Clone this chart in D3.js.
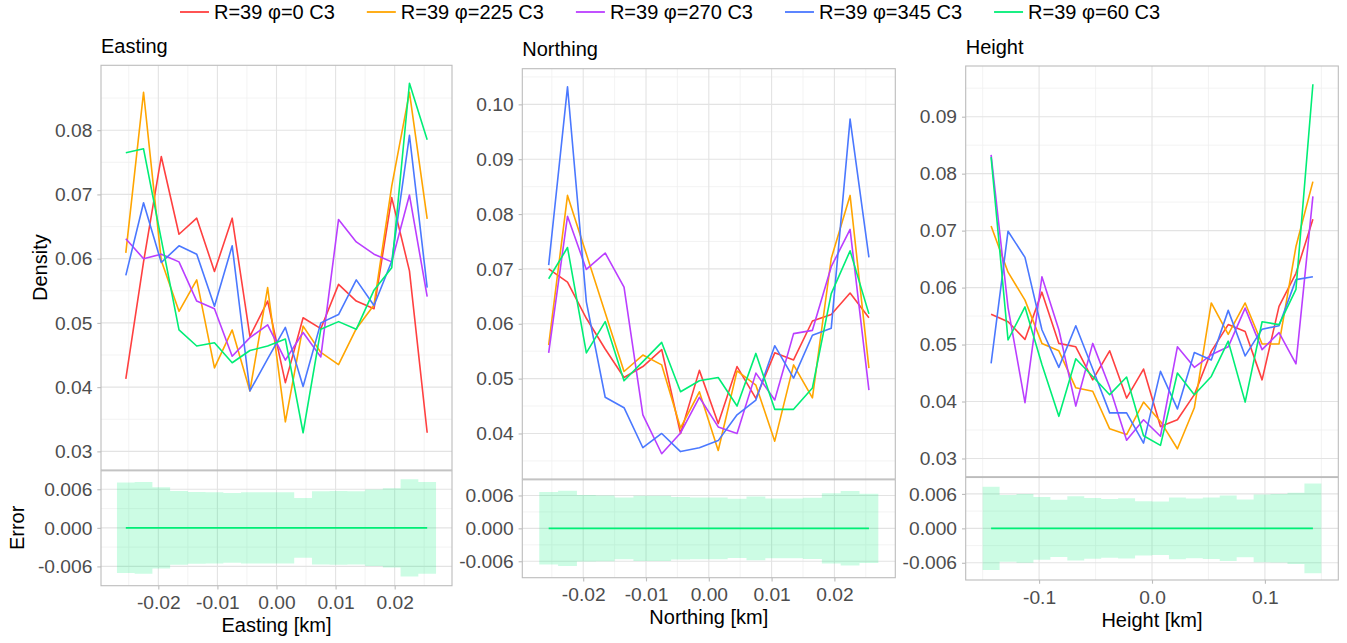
<!DOCTYPE html>
<html>
<head>
<meta charset="utf-8">
<script src="https://cdn.jsdelivr.net/npm/d3@7"></script>
<style>
  body { margin: 0; background: #ffffff; }
  text { font-family: "Liberation Sans", Arial, Helvetica, sans-serif; }
</style>
</head>
<body>
<svg id="chart" width="1347" height="643"></svg>
<script>
// ---- series ----
const seriesNames = ["R=39 φ=0 C3", "R=39 φ=225 C3", "R=39 φ=270 C3", "R=39 φ=345 C3", "R=39 φ=60 C3"];
const seriesColors = ["#FF4040", "#FFA500", "#BA3EFF", "#4A78FF", "#00EE76"];

// ---- bin centres [km] ----
const eastingBins = [-0.0255, -0.0225, -0.0195, -0.0165, -0.0135, -0.0105, -0.0075, -0.0045, -0.0015,
                      0.0015, 0.0045, 0.0075, 0.0105, 0.0135, 0.0165, 0.0195, 0.0225, 0.0255];
const northingBins = [-0.0255, -0.0225, -0.0195, -0.0165, -0.0135, -0.0105, -0.0075, -0.0045, -0.0015,
                       0.0015, 0.0045, 0.0075, 0.0105, 0.0135, 0.0165, 0.0195, 0.0225, 0.0255];
const heightBins = [-0.1425, -0.1275, -0.1125, -0.0975, -0.0825, -0.0675, -0.0525, -0.0375, -0.0225, -0.0075,
                     0.0075, 0.0225, 0.0375, 0.0525, 0.0675, 0.0825, 0.0975, 0.1125, 0.1275, 0.1425];

// ---- density, Easting ----
const eastingPhi0   = [0.0413, 0.0595, 0.0759, 0.0638, 0.0663, 0.0580, 0.0663, 0.0479, 0.0534, 0.0407, 0.0508, 0.0491, 0.0560, 0.0534, 0.0522, 0.0695, 0.0581, 0.0329];
const eastingPhi225 = [0.0609, 0.0859, 0.0597, 0.0518, 0.0567, 0.0430, 0.0489, 0.0394, 0.0555, 0.0346, 0.0495, 0.0454, 0.0435, 0.0491, 0.0528, 0.0713, 0.0859, 0.0662];
const eastingPhi270 = [0.0631, 0.0600, 0.0607, 0.0595, 0.0534, 0.0522, 0.0448, 0.0477, 0.0497, 0.0442, 0.0485, 0.0447, 0.0661, 0.0626, 0.0607, 0.0595, 0.0699, 0.0541];
const eastingPhi345 = [0.0574, 0.0687, 0.0594, 0.0620, 0.0607, 0.0526, 0.0620, 0.0394, 0.0444, 0.0493, 0.0401, 0.0500, 0.0513, 0.0567, 0.0527, 0.0596, 0.0792, 0.0555];
const eastingPhi60  = [0.0765, 0.0771, 0.0630, 0.0489, 0.0464, 0.0469, 0.0438, 0.0457, 0.0464, 0.0475, 0.0329, 0.0490, 0.0502, 0.0490, 0.0551, 0.0586, 0.0873, 0.0785];

// ---- density, Northing ----
const northingPhi0   = [0.0700, 0.0676, 0.0610, 0.0554, 0.0502, 0.0522, 0.0553, 0.0400, 0.0515, 0.0418, 0.0522, 0.0464, 0.0547, 0.0534, 0.0605, 0.0617, 0.0656, 0.0611];
const northingPhi225 = [0.0561, 0.0834, 0.0727, 0.0620, 0.0513, 0.0543, 0.0525, 0.0410, 0.0476, 0.0369, 0.0514, 0.0488, 0.0386, 0.0525, 0.0465, 0.0719, 0.0834, 0.0519];
const northingPhi270 = [0.0547, 0.0796, 0.0699, 0.0729, 0.0667, 0.0434, 0.0363, 0.0401, 0.0466, 0.0412, 0.0400, 0.0510, 0.0461, 0.0582, 0.0588, 0.0704, 0.0772, 0.0479];
const northingPhi345 = [0.0707, 0.1032, 0.0640, 0.0466, 0.0447, 0.0374, 0.0400, 0.0367, 0.0374, 0.0387, 0.0434, 0.0461, 0.0560, 0.0501, 0.0579, 0.0592, 0.0973, 0.0721];
const northingPhi60  = [0.0682, 0.0739, 0.0547, 0.0604, 0.0496, 0.0531, 0.0566, 0.0476, 0.0496, 0.0502, 0.0450, 0.0546, 0.0444, 0.0444, 0.0483, 0.0655, 0.0733, 0.0618];

// ---- density, Height ----
const heightPhi0   = [0.0553, 0.0540, 0.0509, 0.0592, 0.0502, 0.0496, 0.0438, 0.0489, 0.0406, 0.0457, 0.0356, 0.0368, 0.0412, 0.0488, 0.0535, 0.0523, 0.0438, 0.0567, 0.0625, 0.0720];
const heightPhi225 = [0.0708, 0.0627, 0.0578, 0.0502, 0.0489, 0.0424, 0.0418, 0.0352, 0.0342, 0.0399, 0.0365, 0.0317, 0.0389, 0.0573, 0.0518, 0.0573, 0.0501, 0.0501, 0.0672, 0.0786];
const heightPhi270 = [0.0833, 0.0565, 0.0398, 0.0619, 0.0526, 0.0392, 0.0502, 0.0425, 0.0332, 0.0368, 0.0339, 0.0496, 0.0460, 0.0482, 0.0496, 0.0564, 0.0491, 0.0521, 0.0466, 0.0760];
const heightPhi345 = [0.0467, 0.0699, 0.0653, 0.0526, 0.0460, 0.0533, 0.0457, 0.0380, 0.0380, 0.0327, 0.0453, 0.0387, 0.0486, 0.0473, 0.0560, 0.0480, 0.0527, 0.0533, 0.0614, 0.0619];
const heightPhi60  = [0.0829, 0.0508, 0.0566, 0.0465, 0.0374, 0.0475, 0.0444, 0.0412, 0.0443, 0.0340, 0.0323, 0.0450, 0.0412, 0.0444, 0.0506, 0.0399, 0.0540, 0.0535, 0.0597, 0.0957];

// ---- error band half-widths per bin ----
const eastingError  = [0.00704, 0.00715, 0.00631, 0.00574, 0.00558, 0.00553, 0.00543, 0.00553, 0.00553, 0.00553, 0.00464, 0.00569, 0.00574, 0.00569, 0.00595, 0.00616, 0.00757, 0.00715];
const northingError = [0.00661, 0.00685, 0.00606, 0.00600, 0.00564, 0.00594, 0.00594, 0.00570, 0.00564, 0.00564, 0.00539, 0.00582, 0.00545, 0.00545, 0.00558, 0.00642, 0.00679, 0.00630];
const heightError   = [0.00725, 0.00583, 0.00600, 0.00545, 0.00498, 0.00559, 0.00530, 0.00513, 0.00524, 0.00472, 0.00466, 0.00539, 0.00521, 0.00536, 0.00571, 0.00504, 0.00591, 0.00597, 0.00620, 0.00783];

// ---- ticks ----
const horizTicks      = [-0.02, -0.01, 0, 0.01, 0.02];
const horizTickLabels = ["-0.02", "-0.01", "0.00", "0.01", "0.02"];
const horizMinor      = [-0.025, -0.015, -0.005, 0.005, 0.015, 0.025];
const heightTicks      = [-0.1, 0, 0.1];
const heightTickLabels = ["-0.1", "0.0", "0.1"];
const heightMinor      = [-0.15, -0.05, 0.05, 0.15];

const eastingDensityTicks  = [0.03, 0.04, 0.05, 0.06, 0.07, 0.08];
const eastingDensityLabels = ["0.03", "0.04", "0.05", "0.06", "0.07", "0.08"];
const eastingDensityMinor  = [0.035, 0.045, 0.055, 0.065, 0.075, 0.085];
const northingDensityTicks  = [0.04, 0.05, 0.06, 0.07, 0.08, 0.09, 0.10];
const northingDensityLabels = ["0.04", "0.05", "0.06", "0.07", "0.08", "0.09", "0.10"];
const northingDensityMinor  = [0.035, 0.045, 0.055, 0.065, 0.075, 0.085, 0.095, 0.105];
const heightDensityTicks  = [0.03, 0.04, 0.05, 0.06, 0.07, 0.08, 0.09];
const heightDensityLabels = ["0.03", "0.04", "0.05", "0.06", "0.07", "0.08", "0.09"];
const heightDensityMinor  = [0.035, 0.045, 0.055, 0.065, 0.075, 0.085, 0.095];

const errorTicks  = [-0.006, 0, 0.006];
const errorLabels = ["-0.006", "0.000", "0.006"];
const errorMinor  = [-0.003, 0.003];

// ---- layout ----
const panels = [
  { title: "Easting", xTitle: "Easting [km]", bins: eastingBins,
    series: [eastingPhi0, eastingPhi225, eastingPhi270, eastingPhi345, eastingPhi60], error: eastingError,
    xDomain: [-0.0297, 0.0297], yDomain: [0.0271, 0.0901], eDomain: [-0.009, 0.009],
    xTicks: horizTicks, xLabels: horizTickLabels, xMinor: horizMinor,
    yTicks: eastingDensityTicks, yLabels: eastingDensityLabels, yMinor: eastingDensityMinor,
    box: { left: 101, right: 452, top: 65.3, mid: 470, bottom: 585.7 }, yTitles: true },
  { title: "Northing", xTitle: "Northing [km]", bins: northingBins,
    series: [northingPhi0, northingPhi225, northingPhi270, northingPhi345, northingPhi60], error: northingError,
    xDomain: [-0.0297, 0.0297], yDomain: [0.0317, 0.1065], eDomain: [-0.009, 0.009],
    xTicks: horizTicks, xLabels: horizTickLabels, xMinor: horizMinor,
    yTicks: northingDensityTicks, yLabels: northingDensityLabels, yMinor: northingDensityMinor,
    box: { left: 522.3, right: 895.3, top: 68.7, mid: 479, bottom: 577.7 }, yTitles: false },
  { title: "Height", xTitle: "Height [km]", bins: heightBins,
    series: [heightPhi0, heightPhi225, heightPhi270, heightPhi345, heightPhi60], error: heightError,
    xDomain: [-0.165, 0.165], yDomain: [0.0268, 0.0989], eDomain: [-0.009, 0.009],
    xTicks: heightTicks, xLabels: heightTickLabels, xMinor: heightMinor,
    yTicks: heightDensityTicks, yLabels: heightDensityLabels, yMinor: heightDensityMinor,
    box: { left: 965.7, right: 1338.3, top: 66, mid: 476.7, bottom: 580 }, yTitles: false }
];

const svg = d3.select("#chart");
svg.append("rect").attr("width", 1347).attr("height", 643).attr("fill", "#ffffff");

const gridMajor = "#e3e3e3", gridMinor = "#f0f0f0", borderCol = "#bcbcbc";
const labelCol = "#4d4d4d";
const tickFont = 19.2, titleFont = 20;
const bandFill = "#00EE76";

panels.forEach(p => {
  const b = p.box;
  const g = svg.append("g");
  const x = d3.scaleLinear().domain(p.xDomain).range([b.left, b.right]);
  const y = d3.scaleLinear().domain(p.yDomain).range([b.mid, b.top]);
  const e = d3.scaleLinear().domain(p.eDomain).range([b.bottom, b.mid]);

  // background grid: minor then major, both strips
  const hLines = (vals, scale, col, w) => g.append("g").selectAll("line").data(vals).join("line")
      .attr("x1", b.left).attr("x2", b.right)
      .attr("y1", d => scale(d)).attr("y2", d => scale(d))
      .attr("stroke", col).attr("stroke-width", w);
  const vLines = (vals, y0, y1, col, w) => g.append("g").selectAll("line").data(vals).join("line")
      .attr("x1", d => x(d)).attr("x2", d => x(d))
      .attr("y1", y0).attr("y2", y1)
      .attr("stroke", col).attr("stroke-width", w);

  hLines(p.yMinor.filter(v => v > p.yDomain[0] && v < p.yDomain[1]), y, gridMinor, 0.8);
  hLines(errorMinor, e, gridMinor, 0.8);
  vLines(p.xMinor, b.top, b.mid, gridMinor, 0.8);
  vLines(p.xMinor, b.mid, b.bottom, gridMinor, 0.8);
  hLines(p.yTicks, y, gridMajor, 1.1);
  hLines(errorTicks, e, gridMajor, 1.1);
  vLines(p.xTicks, b.top, b.mid, gridMajor, 1.1);
  vLines(p.xTicks, b.mid, b.bottom, gridMajor, 1.1);

  // error band as a step ribbon around zero
  const half = (p.bins[1] - p.bins[0]) / 2;
  const steps = [];
  p.bins.forEach((c, i) => {
    steps.push({ x: c - half, v: p.error[i] });
    steps.push({ x: c + half, v: p.error[i] });
  });
  g.append("path").datum(steps)
    .attr("d", d3.area().x(d => x(d.x)).y0(d => e(-d.v)).y1(d => e(d.v)))
    .attr("fill", bandFill).attr("fill-opacity", 0.2);
  g.append("path").datum(p.bins)
    .attr("d", d3.line().x(d => x(d)).y(() => e(0)))
    .attr("fill", "none").attr("stroke", bandFill).attr("stroke-width", 1.7);

  // density lines
  p.series.forEach((vals, si) => {
    g.append("path").datum(vals)
      .attr("d", d3.line().x((d, i) => x(p.bins[i])).y(d => y(d)))
      .attr("fill", "none").attr("stroke", seriesColors[si])
      .attr("stroke-width", 1.6).attr("stroke-linejoin", "round");
  });

  // panel borders
  g.append("rect").attr("x", b.left).attr("y", b.top)
    .attr("width", b.right - b.left).attr("height", b.mid - b.top)
    .attr("fill", "none").attr("stroke", borderCol).attr("stroke-width", 1.1);
  g.append("rect").attr("x", b.left).attr("y", b.mid + 0.8)
    .attr("width", b.right - b.left).attr("height", b.bottom - b.mid - 0.8)
    .attr("fill", "none").attr("stroke", borderCol).attr("stroke-width", 1.1);

  // axes
  const yAxis = d3.axisLeft(y).tickValues(p.yTicks).tickFormat((d, i) => p.yLabels[i]).tickSize(3.7).tickPadding(5);
  const eAxis = d3.axisLeft(e).tickValues(errorTicks).tickFormat((d, i) => errorLabels[i]).tickSize(3.7).tickPadding(5);
  const xAxis = d3.axisBottom(x).tickValues(p.xTicks).tickFormat((d, i) => p.xLabels[i]).tickSize(3.7).tickPadding(4);
  const style = sel => {
    sel.select(".domain").remove();
    sel.selectAll(".tick line").attr("stroke", borderCol).attr("stroke-width", 1.1);
    sel.selectAll(".tick text").attr("fill", labelCol).style("font-size", tickFont + "px")
      .style("font-family", "'Liberation Sans', Arial, sans-serif");
  };
  g.append("g").attr("transform", `translate(${b.left},0)`).call(yAxis).call(style);
  g.append("g").attr("transform", `translate(${b.left},0)`).call(eAxis).call(style);
  g.append("g").attr("transform", `translate(0,${b.bottom})`).call(xAxis).call(style)
    .selectAll(".tick text").attr("dy", null).attr("y", 23.5).attr("dominant-baseline", "auto");

  // titles
  g.append("text").attr("x", b.left).attr("y", b.top - 12.5)
    .attr("fill", "#000").style("font-size", titleFont + "px").text(p.title);
  g.append("text").attr("x", (b.left + b.right) / 2).attr("y", b.bottom + 46.5)
    .attr("text-anchor", "middle").attr("fill", "#000").style("font-size", titleFont + "px").text(p.xTitle);

  if (p.yTitles) {
    g.append("text").attr("transform", `translate(46.5,${(b.top + b.mid) / 2}) rotate(-90)`)
      .attr("text-anchor", "middle").attr("fill", "#000").style("font-size", titleFont + "px").text("Density");
    g.append("text").attr("transform", `translate(24,${(b.mid + b.bottom) / 2}) rotate(-90)`)
      .attr("text-anchor", "middle").attr("fill", "#000").style("font-size", titleFont + "px").text("Error");
  }
});

// legend across the top
const legend = svg.append("g");
const swatch = 29, swatchGap = 5, itemGap = 32, legendY = 12;
const items = legend.selectAll("g").data(seriesNames).join("g");
items.append("line").attr("x1", 0).attr("x2", swatch).attr("y1", legendY).attr("y2", legendY)
  .attr("stroke", (d, i) => seriesColors[i]).attr("stroke-width", 1.8);
items.append("text").attr("x", swatch + swatchGap).attr("y", legendY).attr("dy", "0.35em")
  .attr("fill", "#000").style("font-size", "20px").text(d => d);
let cursor = 0;
const widths = [];
items.each(function () {
  const w = swatch + swatchGap + d3.select(this).select("text").node().getComputedTextLength();
  widths.push(w);
});
const total = d3.sum(widths) + itemGap * (widths.length - 1);
const start = 670 - total / 2;
items.attr("transform", (d, i) => {
  const t = `translate(${start + cursor},0)`;
  cursor += widths[i] + itemGap;
  return t;
});
</script>
</body>
</html>
